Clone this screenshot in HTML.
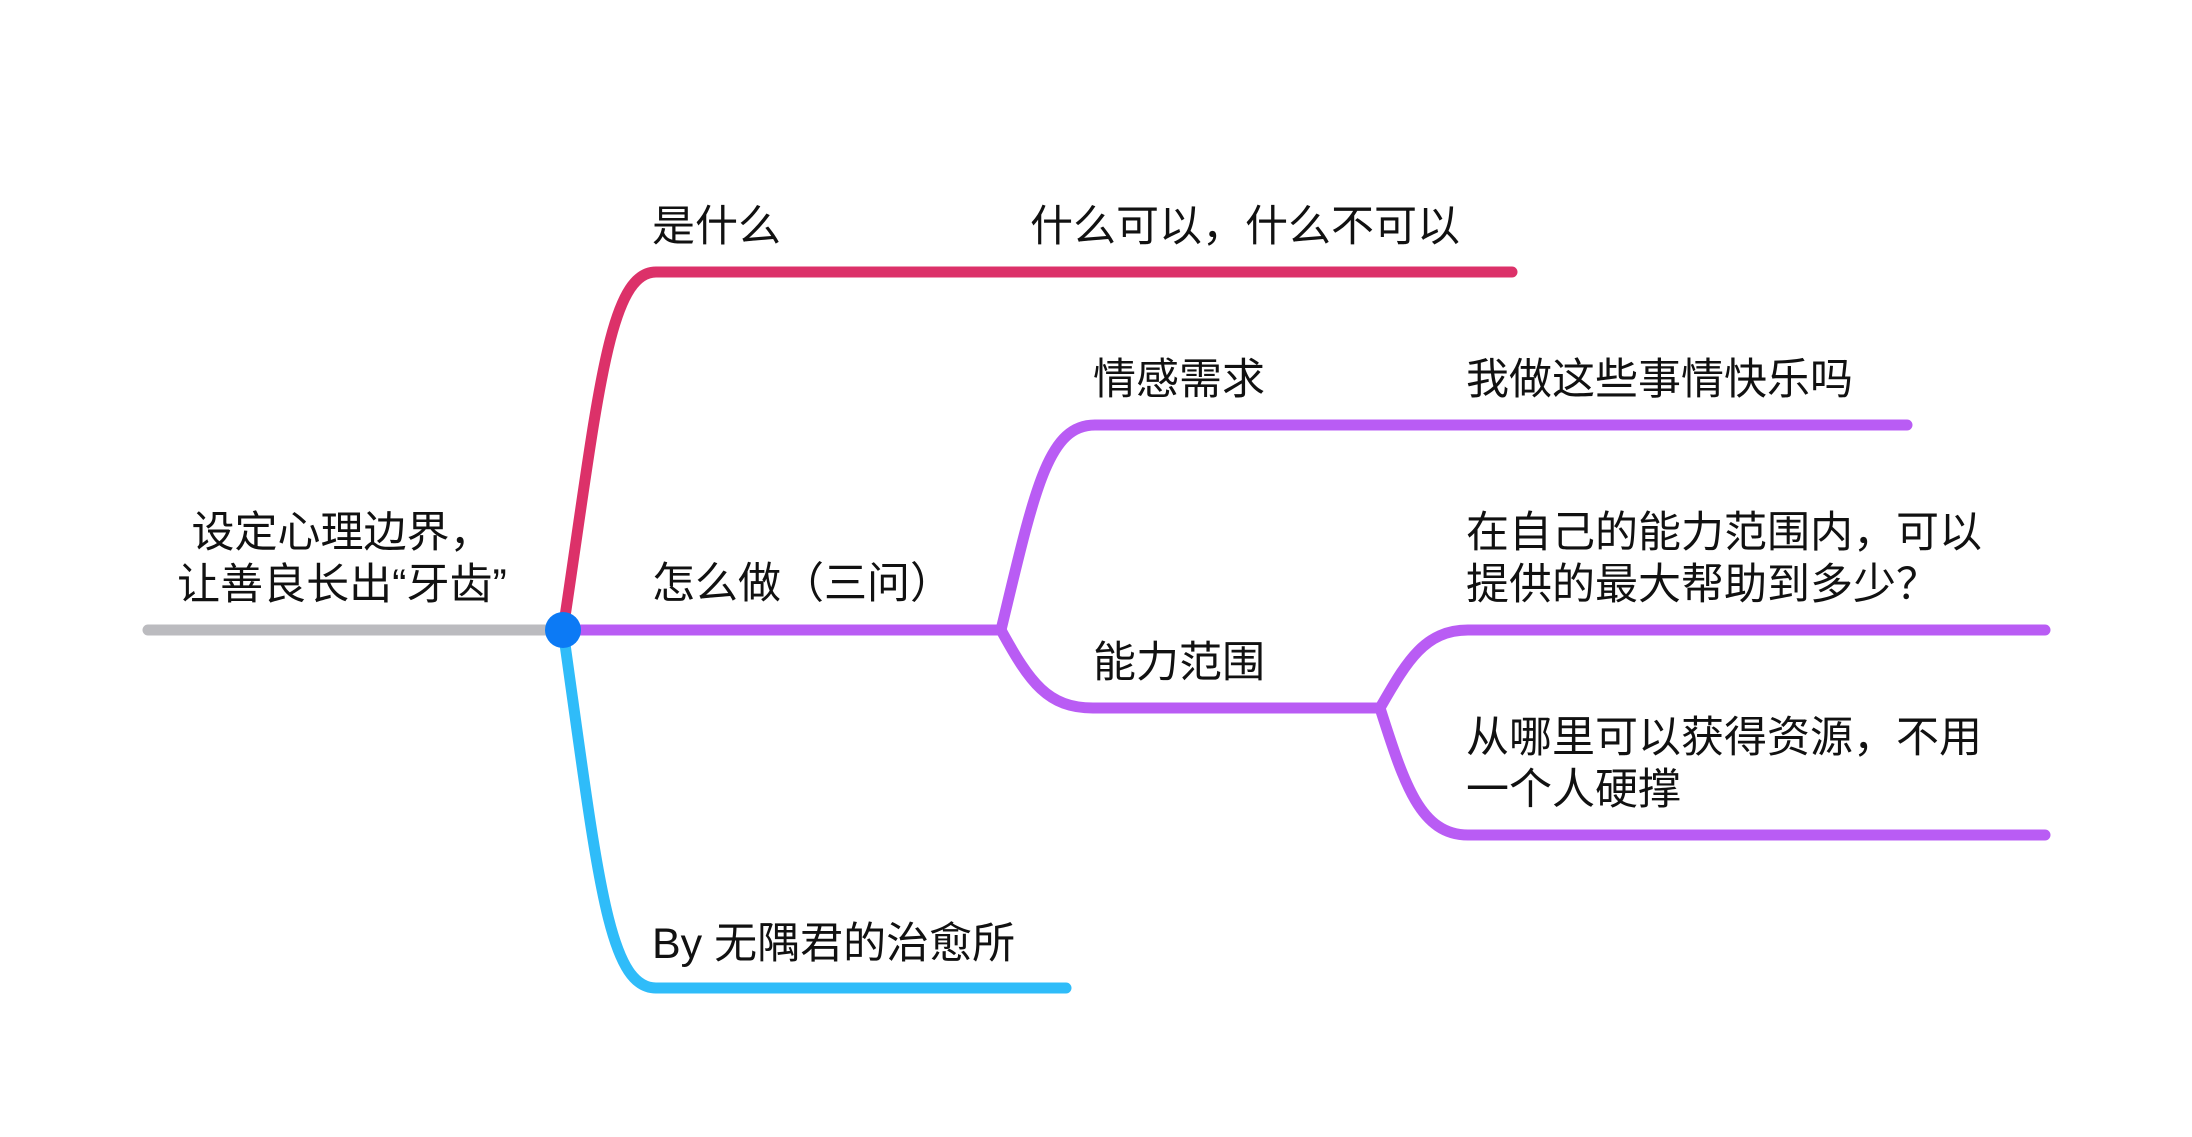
<!DOCTYPE html>
<html><head><meta charset="utf-8"><style>
html,body{margin:0;padding:0;background:#fff;}
svg{display:block;}
text{font-family:"Liberation Sans","Noto Sans CJK SC",sans-serif;font-size:43px;fill:#111;dominant-baseline:central;}
</style></head><body>
<svg width="2192" height="1137" viewBox="0 0 2192 1137" xmlns="http://www.w3.org/2000/svg">
<g transform="translate(0,-2)">
<g fill="none" stroke-width="11" stroke-linecap="round">
<path d="M148,632 L563,632" stroke="#bbbbbf"/>
<path d="M563,632 C598,400 608,274 656,274 L1512,274" stroke="#dc3169"/>
<path d="M563,632 C598,880 608,990 656,990 L1066,990" stroke="#2fbcf9"/>
<path d="M563,632 L1001,632" stroke="#b95cf4"/>
<path d="M1001,632 C1035,490 1048,427 1095,427 L1907,427" stroke="#b95cf4"/>
<path d="M1001,632 C1030,685 1048,710 1093,710 L1380,710" stroke="#b95cf4"/>
<path d="M1380,710 C1406,665 1424,632 1468,632 L2045,632" stroke="#b95cf4"/>
<path d="M1380,710 C1404,785 1420,837 1468,837 L2045,837" stroke="#b95cf4"/>
</g>
<circle cx="563" cy="632" r="18" fill="#0c7af5"/>
<text x="342" y="535" text-anchor="middle">设定心理边界，</text>
<text x="342" y="587" text-anchor="middle">让善良长出“牙齿”</text>
<text x="652" y="229">是什么</text>
<text x="1030" y="229">什么可以，什么不可以</text>
<text x="652" y="586">怎么做（三问）</text>
<text x="1093" y="382">情感需求</text>
<text x="1466" y="382">我做这些事情快乐吗</text>
<text x="1093" y="665">能力范围</text>
<text x="1466" y="535">在自己的能力范围内，可以</text>
<text x="1466" y="587">提供的最大帮助到多少？</text>
<text x="1466" y="740">从哪里可以获得资源，不用</text>
<text x="1466" y="792">一个人硬撑</text>
<text x="652" y="946">By 无隅君的治愈所</text>
</g>
</svg>
</body></html>
